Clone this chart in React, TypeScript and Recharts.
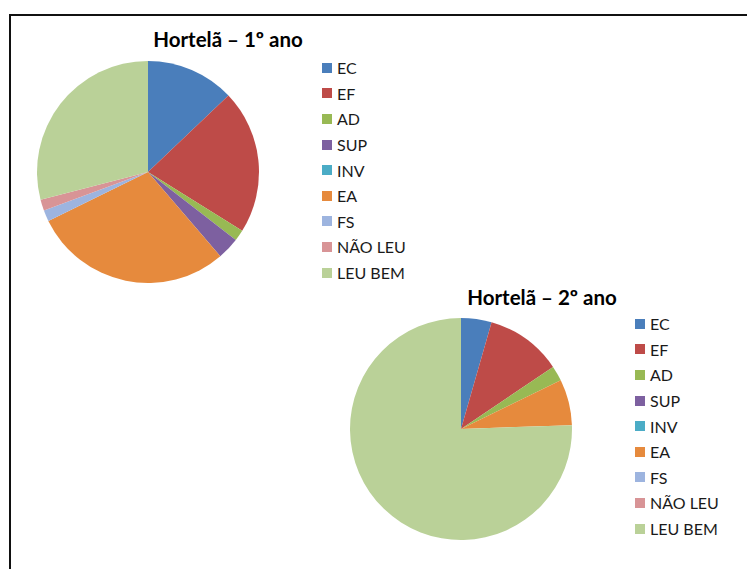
import { Cell, Pie, PieChart } from "recharts";

const CATEGORIES = ["EC", "EF", "AD", "SUP", "INV", "EA", "FS", "NÃO LEU", "LEU BEM"];
const COLORS = [
  "#4A7EBB",
  "#BE4B48",
  "#98B954",
  "#7D60A0",
  "#4BACC6",
  "#E68A3D",
  "#9DB4DF",
  "#D89496",
  "#BAD198"
];
const FIRST_YEAR = [8, 13, 1, 2, 0, 18, 1, 1, 18];
const SECOND_YEAR = [2, 5, 1, 0, 0, 3, 0, 0, 34];

const FONT = "Lato, 'Open Sans', sans-serif";

function toRows(values: number[]) {
  return CATEGORIES.map((name, i) => ({ name, value: values[i] }));
}

function LegendBox({ left, top }: { left: number; top: number }) {
  return (
    <div style={{ position: "absolute", left, top, fontFamily: FONT, fontSize: 16, color: "#1a1a1a" }}>
      {CATEGORIES.map((name, i) => (
        <div key={name} style={{ height: 25.6, display: "flex", alignItems: "center" }}>
          <span
            style={{ display: "inline-block", width: 10, height: 10, background: COLORS[i], marginRight: 5 }}
          />
          <span>{name}</span>
        </div>
      ))}
    </div>
  );
}

function PiePanel({
  title,
  values,
  left,
  top,
  titleX,
  titleY,
  legendLeft,
  legendTop
}: {
  title: string;
  values: number[];
  left: number;
  top: number;
  titleX: number;
  titleY: number;
  legendLeft: number;
  legendTop: number;
}) {
  const rows = toRows(values);
  return (
    <>
      <div
        style={{
          position: "absolute",
          left: titleX - 120,
          top: titleY - 13,
          width: 240,
          height: 26,
          lineHeight: "26px",
          textAlign: "center",
          fontFamily: FONT,
          fontWeight: 700,
          fontSize: 20.5,
          color: "#000"
        }}
      >
        {title}
      </div>
      <div style={{ position: "absolute", left: left - 115, top: top - 115 }}>
        <PieChart width={230} height={230} margin={{ top: 0, right: 0, bottom: 0, left: 0 }}>
          <Pie
            data={rows}
            dataKey="value"
            nameKey="name"
            cx={115}
            cy={115}
            outerRadius={111}
            startAngle={90}
            endAngle={-270}
            stroke="none"
            isAnimationActive={false}
          >
            {rows.map((_, i) => (
              <Cell key={i} fill={COLORS[i]} />
            ))}
          </Pie>
        </PieChart>
      </div>
      <LegendBox left={legendLeft} top={legendTop} />
    </>
  );
}

export default function App() {
  return (
    <div
      style={{
        position: "absolute",
        left: 0,
        top: 0,
        width: 747,
        height: 569,
        background: "#fff",
        overflow: "hidden"
      }}
    >
      <div
        style={{
          position: "absolute",
          left: 9,
          top: 14,
          width: 760,
          height: 580,
          borderLeft: "2px solid #111",
          borderTop: "2px solid #111"
        }}
      />
      <PiePanel
        title="Hortelã – 1º ano"
        values={FIRST_YEAR}
        left={148}
        top={172}
        titleX={228}
        titleY={39}
        legendLeft={322}
        legendTop={55}
      />
      <PiePanel
        title="Hortelã – 2º ano"
        values={SECOND_YEAR}
        left={461}
        top={429}
        titleX={542}
        titleY={297}
        legendLeft={635}
        legendTop={311}
      />
    </div>
  );
}
